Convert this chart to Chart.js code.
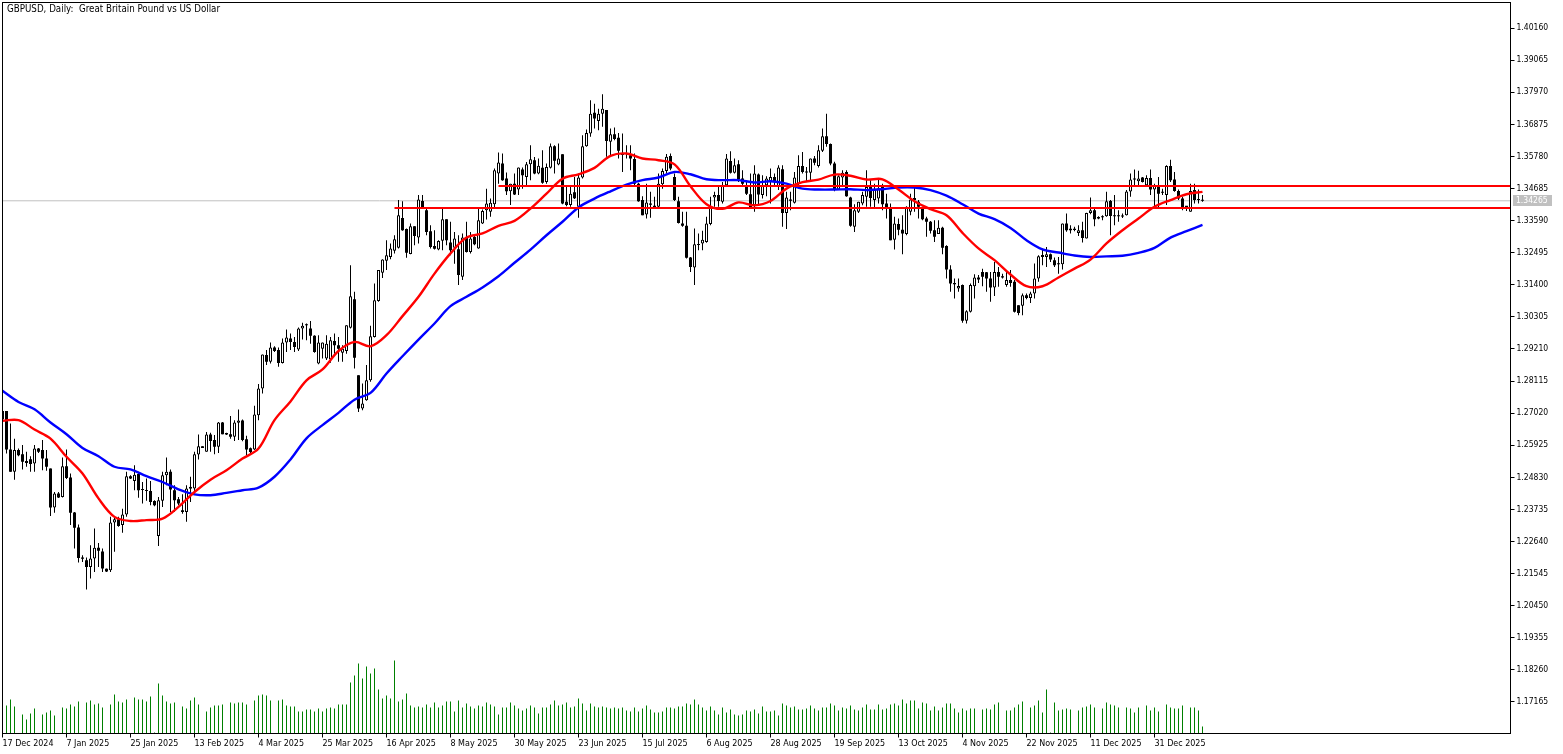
<!DOCTYPE html>
<html><head><meta charset="utf-8">
<style>html,body{margin:0;padding:0;background:#fff}canvas{display:block}</style>
<script src="https://cdn.jsdelivr.net/npm/chart.js@4"></script>
</head><body><canvas id="c" width="1563" height="754" style="width:1563px;height:754px"></canvas>
<script>
const titleText = "GBPUSD, Daily:  Great Britain Pound vs US Dollar";
const dateLabels = ["17 Dec 2024","7 Jan 2025","25 Jan 2025","13 Feb 2025","4 Mar 2025","25 Mar 2025","16 Apr 2025","8 May 2025","30 May 2025","23 Jun 2025","15 Jul 2025","6 Aug 2025","28 Aug 2025","19 Sep 2025","13 Oct 2025","4 Nov 2025","22 Nov 2025","11 Dec 2025","31 Dec 2025"];
const priceTicks = [1.40160,1.39065,1.37970,1.36875,1.35780,1.34685,1.33590,1.32495,1.31400,1.30305,1.29210,1.28115,1.27020,1.25925,1.24830,1.23735,1.22640,1.21545,1.20450,1.19355,1.18260,1.17165];
const lastPrice = 1.34265;
const resistance = 1.3477;
const support = 1.3402;
const highs = [1.2709,1.2709,1.2667,1.2615,1.2581,1.2593,1.2570,1.2555,1.2593,1.2583,
1.2610,1.2576,1.2513,1.2433,1.2433,1.2551,1.2578,1.2496,1.2365,1.2322,
1.2217,1.2209,1.2251,1.2308,1.2259,1.2240,1.2172,1.2348,1.2348,1.2348,
1.2376,1.2502,1.2490,1.2524,1.2502,1.2467,1.2479,1.2470,1.2405,1.2416,
1.2502,1.2551,1.2510,1.2456,1.2416,1.2425,1.2456,1.2485,1.2570,1.2629,
1.2589,1.2638,1.2635,1.2627,1.2672,1.2672,1.2635,1.2692,1.2678,1.2714,
1.2680,1.2625,1.2585,1.2727,1.2801,1.2902,1.2917,1.2943,1.2930,1.2926,
1.2957,1.2987,1.2974,1.2962,1.2994,1.3010,1.3008,1.3016,1.2968,1.2968,
1.2943,1.2968,1.2962,1.2974,1.2962,1.2934,1.3002,1.3207,1.3116,1.2831,
1.2803,1.2866,1.3000,1.3144,1.3190,1.3227,1.3292,1.3281,1.3309,1.3429,
1.3425,1.3332,1.3349,1.3340,1.3446,1.3446,1.3400,1.3343,1.3326,1.3292,
1.3400,1.3364,1.3355,1.3320,1.3309,1.3315,1.3355,1.3320,1.3309,1.3400,
1.3397,1.3468,1.3434,1.3537,1.3591,1.3588,1.3523,1.3485,1.3520,1.3540,
1.3540,1.3559,1.3616,1.3576,1.3571,1.3599,1.3554,1.3622,1.3616,1.3622,
1.3585,1.3474,1.3474,1.3508,1.3520,1.3650,1.3670,1.3770,1.3758,1.3741,
1.3790,1.3736,1.3673,1.3677,1.3658,1.3656,1.3616,1.3616,1.3588,1.3488,
1.3442,1.3485,1.3457,1.3440,1.3520,1.3537,1.3586,1.3588,1.3520,1.3440,
1.3389,1.3389,1.3235,1.3332,1.3315,1.3324,1.3372,1.3440,1.3457,1.3474,
1.3491,1.3586,1.3596,1.3571,1.3565,1.3531,1.3497,1.3520,1.3548,1.3520,
1.3514,1.3510,1.3537,1.3520,1.3548,1.3548,1.3457,1.3457,1.3525,1.3582,
1.3593,1.3542,1.3571,1.3579,1.3616,1.3673,1.3724,1.3622,1.3560,1.3514,
1.3531,1.3531,1.3440,1.3415,1.3423,1.3457,1.3531,1.3497,1.3485,1.3503,
1.3485,1.3451,1.3417,1.3372,1.3366,1.3377,1.3408,1.3451,1.3474,1.3429,
1.3406,1.3372,1.3358,1.3360,1.3360,1.3338,1.3275,1.3207,1.3161,1.3161,
1.3141,1.3053,1.3144,1.3176,1.3173,1.3195,1.3184,1.3184,1.3218,1.3201,
1.3178,1.3184,1.3190,1.3156,1.3070,1.3110,1.3110,1.3116,1.3213,1.3241,
1.3264,1.3269,1.3247,1.3233,1.3235,1.3349,1.3383,1.3343,1.3338,1.3343,
1.3355,1.3386,1.3438,1.3400,1.3374,1.3377,1.3457,1.3429,1.3446,1.3394,
1.3383,1.3463,1.3520,1.3533,1.3529,1.3508,1.3514,1.3533,1.3485,1.3508,
1.3468,1.3548,1.3567,1.3525,1.3465,1.3440,1.3408,1.3485,1.3485,1.3465,
1.3446];
const lows = [1.2681,1.2564,1.2502,1.2475,1.2555,1.2510,1.2519,1.2502,1.2502,1.2566,
1.2507,1.2505,1.2351,1.2362,1.2412,1.2414,1.2477,1.2320,1.2240,1.2192,
1.2194,1.2100,1.2138,1.2160,1.2177,1.2160,1.2160,1.2160,1.2229,1.2314,
1.2294,1.2348,1.2477,1.2439,1.2413,1.2394,1.2403,1.2388,1.2384,1.2249,
1.2382,1.2456,1.2365,1.2365,1.2388,1.2359,1.2331,1.2399,1.2428,1.2544,
1.2583,1.2570,1.2570,1.2562,1.2566,1.2630,1.2627,1.2615,1.2607,1.2610,
1.2606,1.2558,1.2564,1.2576,1.2678,1.2769,1.2866,1.2871,1.2911,1.2860,
1.2871,1.2911,1.2917,1.2911,1.2914,1.2953,1.2951,1.2939,1.2908,1.2869,
1.2888,1.2883,1.2874,1.2905,1.2877,1.2877,1.2905,1.2991,1.2854,1.2706,
1.2712,1.2744,1.2809,1.2960,1.3082,1.3163,1.3190,1.3227,1.3247,1.3264,
1.3324,1.3232,1.3244,1.3275,1.3281,1.3400,1.3309,1.3264,1.3260,1.3258,
1.3258,1.3275,1.3241,1.3212,1.3139,1.3156,1.3250,1.3247,1.3275,1.3263,
1.3347,1.3363,1.3372,1.3404,1.3485,1.3495,1.3446,1.3412,1.3446,1.3446,
1.3468,1.3477,1.3497,1.3517,1.3517,1.3485,1.3485,1.3537,1.3520,1.3548,
1.3415,1.3408,1.3406,1.3433,1.3369,1.3503,1.3611,1.3645,1.3673,1.3667,
1.3679,1.3577,1.3582,1.3633,1.3571,1.3525,1.3571,1.3531,1.3474,1.3423,
1.3377,1.3366,1.3369,1.3404,1.3404,1.3468,1.3520,1.3531,1.3426,1.3349,
1.3338,1.3230,1.3184,1.3139,1.3258,1.3258,1.3283,1.3343,1.3406,1.3406,
1.3417,1.3474,1.3520,1.3520,1.3491,1.3480,1.3446,1.3400,1.3389,1.3411,
1.3434,1.3442,1.3417,1.3480,1.3463,1.3338,1.3330,1.3394,1.3417,1.3480,
1.3520,1.3491,1.3497,1.3548,1.3540,1.3593,1.3611,1.3548,1.3459,1.3463,
1.3474,1.3440,1.3338,1.3320,1.3385,1.3411,1.3406,1.3406,1.3400,1.3417,
1.3394,1.3366,1.3292,1.3260,1.3309,1.3244,1.3309,1.3377,1.3389,1.3366,
1.3360,1.3304,1.3315,1.3286,1.3313,1.3244,1.3161,1.3116,1.3093,1.3116,
1.3010,1.3008,1.3045,1.3093,1.3146,1.3135,1.3116,1.3082,1.3102,1.3133,
1.3161,1.3133,1.3133,1.3045,1.3036,1.3036,1.3091,1.3078,1.3093,1.3150,
1.3207,1.3201,1.3218,1.3201,1.3178,1.3192,1.3321,1.3315,1.3323,1.3306,
1.3284,1.3298,1.3381,1.3340,1.3364,1.3360,1.3372,1.3309,1.3343,1.3355,
1.3368,1.3376,1.3440,1.3480,1.3476,1.3489,1.3476,1.3446,1.3406,1.3400,
1.3446,1.3412,1.3491,1.3457,1.3429,1.3394,1.3392,1.3389,1.3417,1.3417,
1.3423];
const opens = [1.2709,1.2709,1.2578,1.2502,1.2576,1.2562,1.2539,1.2545,1.2530,1.2581,
1.2576,1.2547,1.2513,1.2380,1.2428,1.2416,1.2521,1.2482,1.2363,1.2312,
1.2209,1.2200,1.2177,1.2206,1.2243,1.2230,1.2171,1.2166,1.2329,1.2340,
1.2320,1.2356,1.2487,1.2470,1.2494,1.2442,1.2439,1.2436,1.2402,1.2283,
1.2403,1.2490,1.2502,1.2439,1.2408,1.2371,1.2365,1.2444,1.2445,1.2561,
1.2589,1.2570,1.2629,1.2610,1.2587,1.2670,1.2634,1.2630,1.2621,1.2669,
1.2677,1.2613,1.2582,1.2578,1.2695,1.2786,1.2900,1.2877,1.2926,1.2917,
1.2873,1.2943,1.2957,1.2945,1.2919,1.2991,1.3005,1.2991,1.2966,1.2871,
1.2922,1.2888,1.2886,1.2948,1.2934,1.2908,1.2914,1.2993,1.3091,1.2831,
1.2718,1.2746,1.2814,1.2962,1.3085,1.3181,1.3222,1.3235,1.3256,1.3266,
1.3368,1.3330,1.3245,1.3340,1.3301,1.3426,1.3394,1.3323,1.3272,1.3260,
1.3290,1.3364,1.3284,1.3266,1.3261,1.3167,1.3301,1.3252,1.3303,1.3264,
1.3349,1.3394,1.3389,1.3415,1.3520,1.3554,1.3503,1.3459,1.3485,1.3465,
1.3533,1.3508,1.3551,1.3565,1.3520,1.3539,1.3491,1.3539,1.3613,1.3550,
1.3585,1.3423,1.3412,1.3456,1.3406,1.3506,1.3613,1.3656,1.3727,1.3699,
1.3724,1.3736,1.3628,1.3654,1.3642,1.3590,1.3590,1.3582,1.3569,1.3485,
1.3429,1.3380,1.3417,1.3410,1.3406,1.3483,1.3528,1.3579,1.3508,1.3425,
1.3349,1.3341,1.3233,1.3199,1.3278,1.3281,1.3286,1.3347,1.3438,1.3446,
1.3423,1.3480,1.3562,1.3522,1.3551,1.3503,1.3480,1.3449,1.3411,1.3516,
1.3446,1.3480,1.3491,1.3508,1.3474,1.3534,1.3385,1.3431,1.3420,1.3485,
1.3545,1.3525,1.3522,1.3571,1.3545,1.3597,1.3647,1.3620,1.3554,1.3465,
1.3506,1.3525,1.3438,1.3338,1.3389,1.3417,1.3440,1.3474,1.3429,1.3434,
1.3480,1.3417,1.3400,1.3294,1.3347,1.3328,1.3313,1.3389,1.3429,1.3423,
1.3404,1.3366,1.3355,1.3326,1.3313,1.3335,1.3272,1.3192,1.3146,1.3127,
1.3139,1.3017,1.3048,1.3135,1.3165,1.3184,1.3183,1.3161,1.3131,1.3184,
1.3169,1.3139,1.3156,1.3150,1.3070,1.3068,1.3104,1.3095,1.3110,1.3161,
1.3235,1.3235,1.3244,1.3224,1.3212,1.3210,1.3349,1.3331,1.3331,1.3317,
1.3326,1.3298,1.3385,1.3394,1.3371,1.3372,1.3374,1.3426,1.3376,1.3376,
1.3375,1.3377,1.3458,1.3503,1.3493,1.3506,1.3480,1.3504,1.3465,1.3476,
1.3456,1.3446,1.3545,1.3499,1.3460,1.3434,1.3404,1.3389,1.3463,1.3431,
1.3430];
const closes = [1.2681,1.2578,1.2502,1.2576,1.2558,1.2536,1.2532,1.2528,1.2581,1.2570,
1.2547,1.2519,1.2380,1.2428,1.2414,1.2521,1.2481,1.2362,1.2311,1.2208,
1.2205,1.2177,1.2206,1.2243,1.2232,1.2172,1.2162,1.2329,1.2340,1.2317,
1.2356,1.2487,1.2479,1.2492,1.2439,1.2440,1.2436,1.2399,1.2388,1.2405,
1.2490,1.2502,1.2441,1.2405,1.2394,1.2365,1.2445,1.2446,1.2562,1.2589,
1.2583,1.2629,1.2607,1.2587,1.2670,1.2630,1.2629,1.2621,1.2670,1.2677,
1.2610,1.2578,1.2569,1.2697,1.2786,1.2902,1.2877,1.2926,1.2914,1.2873,
1.2943,1.2960,1.2945,1.2928,1.2991,1.3000,1.3002,1.2966,1.2911,1.2943,
1.2943,1.2939,1.2951,1.2934,1.2922,1.2922,1.3002,1.3101,1.2891,1.2718,
1.2735,1.2814,1.2964,1.3087,1.3190,1.3226,1.3241,1.3264,1.3295,1.3377,
1.3326,1.3249,1.3340,1.3306,1.3431,1.3404,1.3320,1.3269,1.3263,1.3289,
1.3364,1.3292,1.3258,1.3298,1.3173,1.3301,1.3252,1.3298,1.3278,1.3360,
1.3392,1.3417,1.3420,1.3531,1.3557,1.3497,1.3459,1.3485,1.3448,1.3540,
1.3514,1.3551,1.3568,1.3520,1.3546,1.3488,1.3542,1.3613,1.3563,1.3571,
1.3417,1.3412,1.3451,1.3435,1.3506,1.3613,1.3658,1.3724,1.3707,1.3724,
1.3741,1.3631,1.3654,1.3637,1.3597,1.3583,1.3586,1.3571,1.3485,1.3425,
1.3377,1.3421,1.3413,1.3404,1.3485,1.3528,1.3577,1.3537,1.3429,1.3351,
1.3341,1.3232,1.3201,1.3278,1.3276,1.3294,1.3349,1.3406,1.3446,1.3426,
1.3480,1.3571,1.3522,1.3548,1.3499,1.3485,1.3451,1.3404,1.3520,1.3448,
1.3480,1.3503,1.3508,1.3491,1.3540,1.3385,1.3438,1.3427,1.3506,1.3545,
1.3525,1.3523,1.3571,1.3556,1.3599,1.3647,1.3620,1.3554,1.3463,1.3510,
1.3522,1.3442,1.3341,1.3394,1.3423,1.3446,1.3474,1.3436,1.3463,1.3469,
1.3415,1.3400,1.3292,1.3349,1.3328,1.3315,1.3406,1.3431,1.3434,1.3406,
1.3364,1.3355,1.3324,1.3304,1.3335,1.3266,1.3192,1.3144,1.3142,1.3136,
1.3017,1.3050,1.3139,1.3165,1.3158,1.3167,1.3161,1.3131,1.3184,1.3167,
1.3165,1.3156,1.3146,1.3048,1.3044,1.3104,1.3095,1.3110,1.3161,1.3237,
1.3240,1.3244,1.3226,1.3207,1.3210,1.3349,1.3326,1.3326,1.3327,1.3326,
1.3300,1.3385,1.3394,1.3364,1.3366,1.3370,1.3425,1.3375,1.3374,1.3374,
1.3373,1.3458,1.3499,1.3499,1.3503,1.3491,1.3504,1.3465,1.3477,1.3451,
1.3454,1.3545,1.3497,1.3460,1.3434,1.3404,1.3408,1.3460,1.3429,1.3429,
1.3427];
const volumes = [null,28,34,27,null,19,14,20,25,null,
19,21,23,18,null,26,25,29,27,32,
null,31,33,29,30,26,null,29,39,32,
31,34,null,36,34,34,32,37,1,50,
38,32,30,31,null,27,25,33,36,29,
null,22,26,28,28,29,null,31,30,31,
31,29,null,33,38,39,38,33,null,33,
34,28,27,27,22,22,24,24,22,25,
22,25,26,25,29,29,29,51,58,70,
55,67,60,65,44,35,38,35,73,32,
34,40,28,26,27,26,29,26,31,26,
28,32,32,22,33,26,30,27,25,28,
27,31,29,27,19,26,26,31,28,25,
23,25,28,26,20,26,26,29,33,28,
29,31,26,27,35,30,23,30,27,26,
27,26,25,26,25,26,23,22,26,22,
25,28,24,21,21,22,26,26,25,27,
27,30,29,34,29,26,23,27,23,19,
26,21,24,19,18,19,23,22,24,20,
27,22,22,23,18,30,28,26,27,24,
24,25,28,25,23,26,26,30,28,23,
26,25,28,24,23,26,29,24,24,29,
24,25,29,30,28,34,30,33,33,25,
31,30,23,27,23,26,30,30,25,21,
25,23,25,25,null,24,25,24,29,31,
null,23,23,26,29,32,null,26,28,33,
21,44,1,31,23,24,25,24,null,23,
26,27,29,26,null,25,31,29,28,26,
null,26,25,21,26,null,28,23,26,22,
null,29,26,25,25,28,null,26,26,23,
7];
/* moving averages read every 4th bar */
const maStep = 4;
const redMA = [1.2676,1.2678,1.2646,1.2615,1.2553,1.2496,1.2411,1.2348,1.2334,1.2337,1.2342,1.2382,1.2433,1.2475,1.2507,1.2547,1.2581,1.2678,1.2742,
1.2814,1.2851,1.2914,1.2945,1.2930,1.2968,1.3033,1.3099,1.3178,1.3247,1.3301,1.3315,1.3341,1.3358,1.3400,1.3451,1.3502,
1.3517,1.3539,1.3580,1.3588,1.3571,1.3565,1.3551,1.3476,1.3415,1.3399,1.3421,1.3411,1.3426,1.3468,1.3490,1.3499,1.3516,1.3512,1.3499,1.3500,
1.3465,1.3425,1.3398,1.3377,1.3317,1.3264,1.3224,1.3175,1.3135,1.3135,1.3165,1.3195,1.3226,1.3281,1.3326,1.3366,1.3406,1.3429,1.3449,1.3457];
const blueMA = [1.2778,1.2740,1.2715,1.2670,1.2630,1.2583,1.2555,1.2519,1.2510,1.2487,1.2467,1.2442,1.2425,1.2422,1.2430,1.2439,1.2448,1.2485,1.2544,
1.2616,1.2661,1.2703,1.2748,1.2771,1.2837,1.2896,1.2953,1.3008,1.3067,1.3099,1.3131,1.3169,1.3215,1.3260,1.3309,1.3355,
1.3404,1.3434,1.3459,1.3482,1.3497,1.3506,1.3525,1.3517,1.3500,1.3497,1.3497,1.3489,1.3493,1.3485,1.3468,1.3465,1.3465,1.3466,1.3463,1.3466,
1.3472,1.3472,1.3463,1.3444,1.3415,1.3383,1.3364,1.3334,1.3292,1.3261,1.3250,1.3240,1.3235,1.3237,1.3239,1.3249,1.3266,1.3301,1.3323,1.3344];
const supportFromBar = 98, resistanceFromBar = 124, lastSlot = 377;

const FAMILY = '"DejaVu Sans Condensed"';
const bars = opens.map((o,i)=>({o,c:closes[i],i}));
const upBodies = bars.filter(b=>b.c>=b.o).map(b=>({x:b.i,y:[b.o,b.c]}));
const downBodies = bars.filter(b=>b.c<b.o).map(b=>({x:b.i,y:[b.c,b.o]}));
const wicks = highs.map((h,i)=>({x:i,y:[lows[i],h]}));
const volData = volumes.map((v,i)=>({x:i,y:v}));
const ma = a => a.map((v,k)=>({x:k*maStep,y:v}));
const hline = (from,v)=>[{x:from,y:v},{x:lastSlot,y:v}];
const lineDs = (data,color,width,order,tension)=>({type:'line',data,borderColor:color,borderWidth:width,pointRadius:0,tension:tension||0,order,yAxisID:'y',xAxisID:'x',borderJoinStyle:'round'});
const barDs = (data,opts,order)=>Object.assign({type:'bar',data,order,grouped:false,inflateAmount:0,yAxisID:'y',xAxisID:'x',borderSkipped:false},opts);

const decorPlugin = {
  id:'decor',
  afterDraw(ch){
    const c=ch.ctx, a=ch.chartArea, yS=ch.scales.y;
    c.save();
    c.strokeStyle='#000'; c.lineWidth=1;
    c.strokeRect(a.left,a.top,a.right-a.left,a.bottom-a.top);
    c.fillStyle='#000'; c.font='9.7px '+FAMILY; c.textBaseline='middle'; c.textAlign='left';
    c.fillText(titleText,7,9.5);
    const yp=yS.getPixelForValue(lastPrice);
    c.fillStyle='#c0c0c0'; c.fillRect(1513,Math.round(yp)-6,39,11);
    c.font='8.5px '+FAMILY;
    c.fillStyle='#fff'; c.fillText(lastPrice.toFixed(5),1516,Math.round(yp)-0.5);
    c.restore();
  }
};

new Chart(document.getElementById('c'),{
  type:'bar',
  data:{datasets:[
    barDs(volData,{backgroundColor:'#008000',barThickness:1,yAxisID:'vol'},9),
    lineDs(hline(0,lastPrice),'#c0c0c0',1,8),
    barDs(wicks,{backgroundColor:'#000',barThickness:1},7),
    barDs(downBodies,{backgroundColor:'#000',borderColor:'#000',borderWidth:0,barThickness:3,minBarLength:1},6),
    barDs(upBodies,{backgroundColor:'#fff',borderColor:'#000',borderWidth:1,barThickness:3,minBarLength:2},5),
    lineDs(ma(blueMA),'#0000ff',2.4,4,0.35),
    lineDs(ma(redMA),'#ff0000',2.4,3,0.35),
    lineDs(hline(supportFromBar,support),'#ff0000',2,2),
    lineDs(hline(resistanceFromBar,resistance),'#ff0000',2,1)
  ]},
  options:{
    responsive:false, animation:false, devicePixelRatio:1,
    layout:{padding:{left:2.5,top:2.5,right:0,bottom:0}},
    plugins:{legend:{display:false},tooltip:{enabled:false},title:{display:false}},
    scales:{
      x:{type:'linear',min:0,max:lastSlot,offset:false,position:'bottom',
        grid:{display:true,drawOnChartArea:false,drawTicks:true,tickLength:4,color:'#000',offset:false},
        border:{display:false},
        afterBuildTicks(s){s.ticks=dateLabels.map((d,k)=>({value:k*16}));},
        afterFit(s){s.height=20.5;s.paddingLeft=0;s.paddingRight=0;},
        ticks:{autoSkip:false,maxRotation:0,minRotation:0,align:'start',padding:1,color:'#000',font:{family:FAMILY,size:8.9},
          callback:(v,i)=>dateLabels[i]}
      },
      y:{type:'linear',position:'right',min:1.16088,max:1.41032,
        grid:{display:true,drawOnChartArea:false,drawTicks:true,tickLength:4,color:'#000'},
        border:{display:false},
        afterBuildTicks(s){s.ticks=priceTicks.map(v=>({value:v}));},
        afterFit(s){s.width=52.5;s.paddingTop=0;s.paddingBottom=0;},
        ticks:{autoSkip:false,padding:2,color:'#000',font:{family:FAMILY,size:8.5},callback:v=>v.toFixed(5)}
      },
      vol:{type:'linear',display:false,min:0,max:731}
    }
  },
  plugins:[decorPlugin]
});
</script></body></html>
